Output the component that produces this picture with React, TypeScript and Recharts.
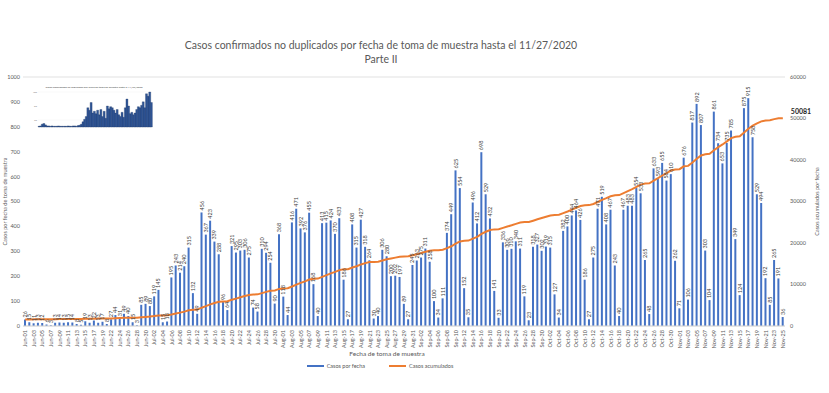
import React from 'react';
import { ComposedChart, BarChart, Bar, Line, XAxis, YAxis, CartesianGrid, LabelList, Label } from 'recharts';

// casos por fecha de toma de muestra, Jun-01 .. Nov-25 (no hay fila para Jun-21)
const dailyCases = [
  26, 15, 11, 13, 12, 6, 3, 13, 14, 13, 15, 14, 8, 5, 19, 13, 22, 13, 17, 8,
  27, 44, 31, 49, 40, 15, 3,
  85, 89, 80, 119, 145, 15, 18,
  195, 243, 214, 240, 315, 132, 49,
  456, 367, 423, 339, 288, 96, 64,
  321, 295, 303, 306, 275, 74, 58,
  310, 294, 254, 90, 368, 118, 44,
  416, 471, 392, 376, 455, 168, 40,
  413, 415, 424, 370, 433, 186, 27,
  408, 315, 427, 318, 264, 30, 40,
  306, 280, 200, 202, 197, 89, 27,
  245, 263, 275, 311, 258, 100, 34,
  111, 374, 449, 625, 554, 152, 35,
  496, 412, 698, 529, 432, 141, 33,
  336, 306, 310, 340, 311, 119, 23,
  318, 327, 302, 319, 315, 127, 34,
  382, 400, 444, 464, 426, 186, 27,
  275, 471, 519, 408, 467, 243, 40,
  467, 483, 483, 554, 533, 265, 48,
  633, 593, 655, 584, 610, 262, 71,
  676, 106, 817, 892, 807, 303, 104,
  861, 734, 653, 735, 785, 349, 124,
  875, 915, 758, 529, 494, 192, 85,
  265, 191, 36,
];

// casos acumulados antes del 1 de junio
const priorCases = 1548;
const missingDays = ['Jun-21'];

const leftTicks = [0, 100, 200, 300, 400, 500, 600, 700, 800, 900, 1000];
const rightTicks = [0, 10000, 20000, 30000, 40000, 50000, 60000];

// miniatura (Parte I) arriba a la izquierda, alturas relativas
const thumbValues = [
  2, 3, 8, 10, 6, 3, 3, 2, 3, 2, 2, 2, 3, 2, 2, 2, 2, 2, 3, 2, 2, 3, 3, 2,
  4, 5, 8, 15, 22, 30, 55, 48, 70, 40, 45, 38, 48, 35, 50, 30, 45, 25,
  60, 52, 58, 55, 48, 40, 50, 35, 30, 42, 28, 55, 80, 60, 38, 42, 35, 40,
  50, 58, 55, 62, 72, 55, 95, 88, 100, 70,
];

const MONTHS = ['Jan', 'Feb', 'Mar', 'Apr', 'May', 'Jun', 'Jul', 'Aug', 'Sep', 'Oct', 'Nov', 'Dec'];
const dayLabels: string[] = [];
for (let t = Date.UTC(2020, 5, 1); dayLabels.length < dailyCases.length; t += 86400000) {
  const d = new Date(t);
  const s = `${MONTHS[d.getUTCMonth()]}-${String(d.getUTCDate()).padStart(2, '0')}`;
  if (!missingDays.includes(s)) dayLabels.push(s);
}

let running = priorCases;
const rows = dailyCases.map((v, i) => {
  running += v;
  return { date: dayLabels[i], daily: v, total: running };
});
const thumbRows = thumbValues.map((v, i) => ({ i, v }));

const BLUE = '#4472C4';
const ORANGE = '#ED7D31';
const FONT = 'Lato, "Open Sans", sans-serif';

const DateTick = (props: any) => {
  const { x, y, payload } = props;
  return (
    <text x={x} y={y} transform={`rotate(-90 ${x} ${y})`} textAnchor="end" dx={-4} dy={2}
      fontSize={5.5} fill="#595959">{payload.value}</text>
  );
};

const BarValue = (props: any) => {
  const { x, y, width, value } = props;
  const cx = x + width / 2;
  const ty = y - 2;
  return (
    <text x={cx} y={ty} transform={`rotate(-90 ${cx} ${ty})`} textAnchor="start" dy={2}
      fontSize={5.5} fill="#404040">{value}</text>
  );
};

const TotalLabel = (props: any) => {
  const { x, y, index, value } = props;
  if (index !== rows.length - 1) return null;
  return <text x={x + 8} y={y - 4} fontSize={7} fontWeight="bold" fill="#262626">{value}</text>;
};

const App = () => {
  return (
    <div style={{ position: 'fixed', left: 0, top: 0, width: 829, height: 393, background: '#fff', fontFamily: FONT }}>
      <div style={{ position: 'absolute', left: 0, top: 38, width: 762, textAlign: 'center', fontSize: 10.5, lineHeight: '14px', color: '#595959' }}>
        Casos confirmados no duplicados por fecha de toma de muestra hasta el 11/27/2020
        <br />
        Parte II
      </div>

      <ComposedChart width={829} height={393} data={rows} margin={{ top: 77, right: 0, bottom: 31, left: 0 }}>
        <CartesianGrid vertical={false} stroke="#d9d9d9" strokeWidth={0.8} />
        <XAxis dataKey="date" interval={1} tick={<DateTick />} tickLine={false} tickSize={0} tickMargin={0}
          height={36} axisLine={{ stroke: '#d9d9d9' }}>
          <Label value="Fecha de toma de muestra" position="insideBottom" offset={6} dx={-17} fontSize={6.5} fill="#595959" />
        </XAxis>
        <YAxis yAxisId="left" domain={[0, 1000]} ticks={leftTicks} width={23} tickSize={0} tickMargin={3}
          axisLine={false} tickLine={false} tick={{ fontSize: 5.5, fill: '#595959' }}>
          <Label value="Casos por fecha de toma de muestra" angle={-90} position="insideLeft" offset={5}
            fontSize={5.5} fill="#595959" style={{ textAnchor: 'middle' }} />
        </YAxis>
        <YAxis yAxisId="right" orientation="right" domain={[0, 60000]} ticks={rightTicks} width={44} tickSize={0}
          tickMargin={5} axisLine={false} tickLine={false} tick={{ fontSize: 5.5, fill: '#595959' }}>
          <Label value="Casos acumulados por fecha" angle={-90} position="insideRight" offset={12}
            fontSize={5.5} fill="#595959" style={{ textAnchor: 'middle' }} />
        </YAxis>
        <Bar yAxisId="left" dataKey="daily" fill={BLUE} barSize={2} isAnimationActive={false}>
          <LabelList dataKey="daily" content={<BarValue />} />
        </Bar>
        <Line yAxisId="right" dataKey="total" type="linear" stroke={ORANGE} strokeWidth={2} dot={false}
          isAnimationActive={false}>
          <LabelList dataKey="total" content={<TotalLabel />} />
        </Line>
      </ComposedChart>

      <div style={{ position: 'absolute', left: 30, top: 78, width: 128, height: 54 }}>
        <div style={{ position: 'absolute', left: 0, top: 7, width: 128, textAlign: 'center', fontSize: 2.6, color: '#404040', whiteSpace: 'nowrap' }}>
          Casos confirmados no duplicados por fecha de toma de muestra hasta el 11/27/2020
        </div>
        <BarChart width={128} height={54} data={thumbRows} margin={{ top: 14, right: 6, bottom: 5, left: 0 }} barCategoryGap={0}>
          <CartesianGrid vertical={false} stroke="#eeeeee" strokeWidth={0.4} />
          <XAxis dataKey="i" hide />
          <YAxis domain={[0, 100]} ticks={[0, 20, 40, 60, 80, 100]} width={8} tickSize={0} tickMargin={1}
            axisLine={false} tickLine={false} tick={{ fontSize: 2.5, fill: '#7f7f7f' }} />
          <Bar dataKey="v" fill="#2F5597" stroke="#1F3864" strokeWidth={0.3} isAnimationActive={false} />
        </BarChart>
      </div>

      <div style={{ position: 'absolute', left: 0, top: 363, width: 760, display: 'flex', justifyContent: 'center', gap: 24, fontSize: 5.5, color: '#595959' }}>
        <div style={{ display: 'flex', alignItems: 'center' }}>
          <div style={{ width: 17, height: 2.5, background: BLUE, marginRight: 3 }} />
          <span>Casos por fecha</span>
        </div>
        <div style={{ display: 'flex', alignItems: 'center' }}>
          <div style={{ width: 17, height: 2.5, background: ORANGE, marginRight: 3 }} />
          <span>Casos acumulados</span>
        </div>
      </div>
    </div>
  );
};

export default App;
